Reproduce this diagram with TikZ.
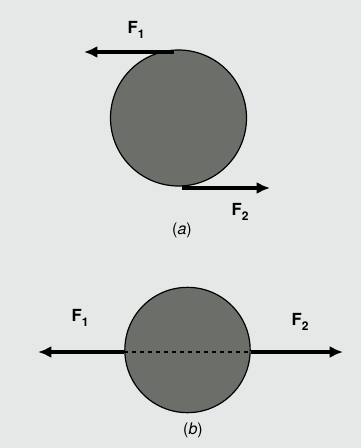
\documentclass[tikz,border=0pt]{standalone}
\usepackage{fontspec}
\setmainfont{TeX Gyre Heros}
\usepackage{tikz}
\usetikzlibrary{arrows.meta,positioning,calc}

\definecolor{paper}{RGB}{230,232,232}
\definecolor{ball}{RGB}{108,110,106}
\newcommand{\forcename}[1]{F\raisebox{-4pt}{\fontsize{9}{10}\selectfont #1}}

\begin{document}
\begin{tikzpicture}[
  x=0.75pt, y=-0.75pt,
  disc/.style={circle, draw, line width=0.9pt, fill=ball, inner sep=0pt},
  force/.style={-{Latex[length=10pt,width=9pt]}, line width=2.8pt},
  flabel/.style={font=\fontsize{12.5}{14}\selectfont\bfseries},
  caption/.style={font=\fontsize{12}{14}\selectfont}
]
% background
\fill[paper] (0,0) rectangle (361,448);
\useasboundingbox (0,0) rectangle (361,448);

% (a) couple on the rim
\node[disc, minimum size=102pt] (ca) at (178.5,118) {};
\coordinate (a1s) at (174,52);
\coordinate (a1e) at (84,52);
\coordinate (a2s) at (182,188);
\coordinate (a2e) at (270,188);
\draw[force] (a1s) -- (a1e);
\draw[force] (a2s) -- (a2e);
\node[flabel] (fa1) at (136,30) {\forcename{1}};
\node[flabel] (fa2) at (240,212) {\forcename{2}};
\node[caption] (la) at (182,230) {(\textit{a})};

% (b) forces along the diameter
\node[disc, minimum size=94pt] (cb) at (187.5,350) {};
\coordinate (b1e) at (38,352);
\coordinate (b2e) at (343,352);
\draw[force] (cb.west |- b1e) -- (b1e);
\draw[force] (cb.east |- b2e) -- (b2e);
\draw[dashed, line width=0.9pt] (cb.west |- b1e) -- (cb.east |- b2e);
\node[flabel] (fb1) at (80,318) {\forcename{1}};
\node[flabel] (fb2) at (300,322) {\forcename{2}};
\node[caption] (lb) at (193,430) {(\textit{b})};
\end{tikzpicture}
\end{document}
